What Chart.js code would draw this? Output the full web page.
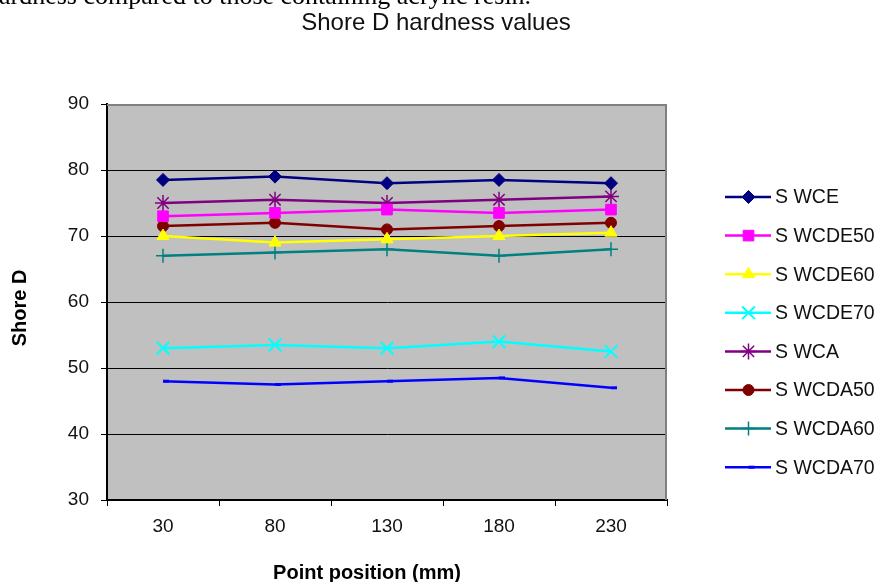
<!DOCTYPE html>
<html>
<head>
<meta charset="utf-8">
<script src="https://cdn.jsdelivr.net/npm/chart.js@4.4.1/dist/chart.umd.min.js"></script>
<style>
  html, body { margin: 0; padding: 0; background: #fff; }
  canvas { display: block; }
</style>
</head>
<body>
<canvas id="shoreChart" width="881" height="582"></canvas>
<script>
// positions along the sample (mm)
const positions = ["30", "80", "130", "180", "230"];

const seriesNames = ["S WCE", "S WCDE50", "S WCDE60", "S WCDE70", "S WCA", "S WCDA50", "S WCDA60", "S WCDA70"];

const wce    = [78.5, 79, 78, 78.5, 78];
const wcde50 = [73, 73.5, 74, 73.5, 74];
const wcde60 = [70, 69, 69.5, 70, 70.5];
const wcde70 = [53, 53.5, 53, 54, 52.5];
const wca    = [75, 75.5, 75, 75.5, 76];
const wcda50 = [71.5, 72, 71, 71.5, 72];
const wcda60 = [67, 67.5, 68, 67, 68];
const wcda70 = [48, 47.5, 48, 48.5, 47];

const yMin = 30;
const yMax = 90;
const yStep = 10;

const FONT = "'Liberation Sans', Arial, sans-serif";

const styles = [
  { color: "#000080", point: "rectRot",  radius: 6.5, pbw: 1 },
  { color: "#ff00ff", point: "rect",     radius: 7.5, pbw: 1 },
  { color: "#ffff00", point: "triangle", radius: 7,   pbw: 1 },
  { color: "#00ffff", point: "crossRot", radius: 9,   pbw: 2 },
  { color: "#800080", point: "star",     radius: 8,   pbw: 1.5 },
  { color: "#800000", point: "circle",   radius: 5.5, pbw: 1 },
  { color: "#008080", point: "cross",    radius: 7,   pbw: 1.5 },
  { color: "#0000ff", point: "dash",     radius: 6,   pbw: 3 },
];

const values = [wce, wcde50, wcde60, wcde70, wca, wcda50, wcda60, wcda70];

const datasets = values.map((data, i) => ({
  label: seriesNames[i],
  data: data,
  borderColor: styles[i].color,
  backgroundColor: styles[i].color,
  borderWidth: 2.5,
  tension: 0,
  pointStyle: styles[i].point,
  pointRadius: styles[i].radius,
  pointHoverRadius: styles[i].radius,
  pointBorderWidth: styles[i].pbw,
  pointBorderColor: styles[i].color,
  pointBackgroundColor: styles[i].color,
}));

// grey plot area, grey frame on top and right
const plotArea = {
  id: "plotArea",
  beforeDraw(chart) {
    const { ctx, chartArea: a } = chart;
    ctx.save();
    ctx.fillStyle = "#c0c0c0";
    ctx.fillRect(a.left, a.top, a.right - a.left, a.bottom - a.top);
    ctx.restore();
  },
  beforeDatasetsDraw(chart) {
    const { ctx, chartArea: a } = chart;
    ctx.save();
    ctx.strokeStyle = "#808080";
    ctx.lineWidth = 2;
    ctx.beginPath();
    ctx.moveTo(a.left, a.top + 1);
    ctx.lineTo(a.right - 1, a.top + 1);
    ctx.lineTo(a.right - 1, a.bottom);
    ctx.stroke();
    ctx.restore();
  },
};

// page text above, title, axis titles and the line+marker legend
const extras = {
  id: "extras",
  afterDraw(chart) {
    const { ctx } = chart;
    ctx.save();
    ctx.fillStyle = "#000";
    ctx.textBaseline = "alphabetic";
    ctx.textAlign = "left";
    ctx.font = "26px 'Liberation Serif', 'Times New Roman', serif";
    ctx.fillText("hardness compared to those containing acrylic resin.", -14, 4);

    ctx.fillStyle = "#111";
    ctx.textAlign = "center";
    ctx.textBaseline = "middle";
    ctx.font = "24px " + FONT;
    ctx.fillText("Shore D hardness values", 436, 23);

    // axis titles (Excel centres them a bit off the plot centre)
    ctx.fillStyle = "#000";
    ctx.font = "bold 20px " + FONT;
    ctx.fillText("Point position (mm)", 367, 573);
    ctx.save();
    ctx.translate(20, 308);
    ctx.rotate(-Math.PI / 2);
    ctx.fillText("Shore D", 0, 0);
    ctx.restore();

    ctx.textAlign = "left";
    ctx.font = "19.5px " + FONT;
    chart.data.datasets.forEach((ds, i) => {
      const y = 197 + i * 38.6;
      ctx.strokeStyle = ds.borderColor;
      ctx.lineWidth = 2.5;
      ctx.beginPath();
      ctx.moveTo(725, y);
      ctx.lineTo(771, y);
      ctx.stroke();
      ctx.fillStyle = ds.pointBackgroundColor;
      ctx.strokeStyle = ds.pointBorderColor;
      ctx.lineWidth = ds.pointBorderWidth;
      Chart.helpers.drawPoint(ctx, {
        pointStyle: ds.pointStyle,
        radius: ds.pointRadius,
        rotation: 0,
        borderWidth: ds.pointBorderWidth,
      }, 748.5, y);
      ctx.fillStyle = "#111";
      ctx.fillText(ds.label, 775, y + 1);
    });
    ctx.restore();
  },
};

new Chart(document.getElementById("shoreChart"), {
  type: "line",
  data: { labels: positions, datasets: datasets },
  options: {
    responsive: false,
    devicePixelRatio: 1,
    animation: false,
    layout: { padding: { top: 104, right: 214, left: 0, bottom: 0 } },
    plugins: {
      legend: { display: false },
      title: { display: false },
      tooltip: { enabled: false },
    },
    scales: {
      x: {
        offset: true,
        afterFit: (scale) => { scale.height = 82; },
        grid: {
          offset: true,
          drawOnChartArea: false,
          drawTicks: true,
          tickLength: 6,
          color: "#000",
          lineWidth: 1,
        },
        border: { display: true, color: "#000", width: 2 },
        ticks: {
          color: "#111",
          padding: 9,
          maxRotation: 0,
          font: { family: FONT, size: 19 },
        },
      },
      y: {
        min: yMin,
        max: yMax,
        afterFit: (scale) => { scale.width = 107; },
        grid: {
          drawTicks: true,
          tickLength: 6,
          color: (c) => (c.tick && c.tick.value === yMax ? "rgba(0,0,0,0)" : "#000"),
          tickColor: "#000",
          lineWidth: 1,
        },
        border: { display: true, color: "#000", width: 2 },
        ticks: {
          stepSize: yStep,
          color: "#111",
          padding: 12,
          font: { family: FONT, size: 19 },
        },
      },
    },
  },
  plugins: [plotArea, extras],
});
</script>
</body>
</html>
